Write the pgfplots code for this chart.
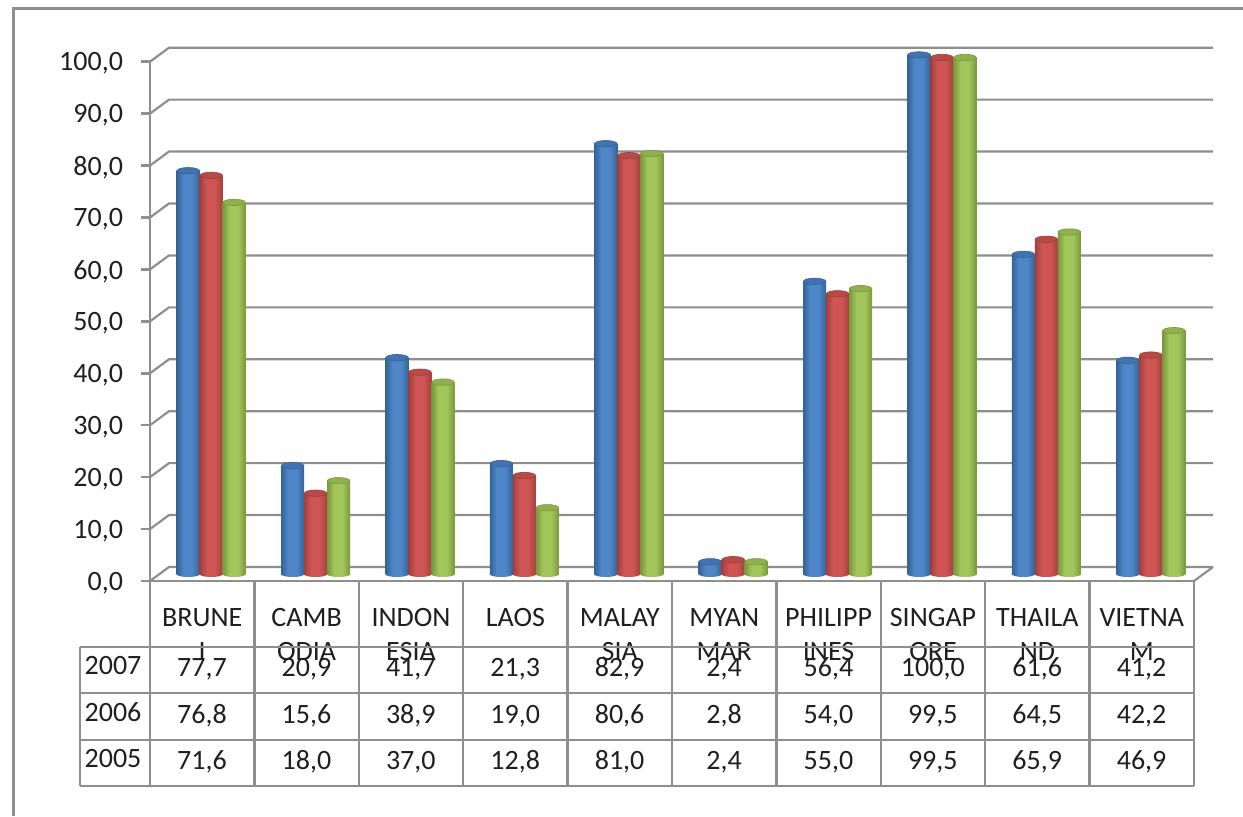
\documentclass[border=0pt]{standalone}
\usepackage{fontspec}
\setmainfont{Carlito}
\usepackage{pgfplots}
\usepackage{pgfplotstable}
\pgfplotsset{compat=1.18}

\definecolor{linegray}{HTML}{8E8E8E}
\definecolor{txt}{HTML}{1F1F1F}
\definecolor{bD}{HTML}{3A6DA6}\definecolor{bM}{HTML}{4F86C8}\definecolor{bC}{HTML}{4073B0}\definecolor{bE}{HTML}{356398}
\definecolor{rD}{HTML}{AE4643}\definecolor{rM}{HTML}{CE5553}\definecolor{rC}{HTML}{B84B48}\definecolor{rE}{HTML}{A03E3B}
\definecolor{gD}{HTML}{84A343}\definecolor{gM}{HTML}{A3C65B}\definecolor{gC}{HTML}{90B04D}\definecolor{gE}{HTML}{7A983D}

% horizontal shading of a cylinder: narrow dark edges, broad light middle
\newcommand{\cylshade}[1]{%
  \pgfdeclarehorizontalshading{cyl#1}{100bp}{color(0bp)=(#1E); color(25bp)=(#1E); color(29bp)=(#1D); color(40bp)=(#1M); color(58bp)=(#1M); color(71bp)=(#1D); color(75bp)=(#1E); color(100bp)=(#1E)}%
}
\cylshade{b}\cylshade{r}\cylshade{g}

% cylinder ends, 23 px wide (1 px = 0.5 pt)
\newcommand{\cylmarks}[1]{%
  \pgfdeclareplotmark{bot#1}{\path[draw=none,shade,shading=cyl#1,shading angle=0] (0,0) ellipse (5.75pt and 1.4pt);}%
  \pgfdeclareplotmark{top#1}{\path[fill=#1C,draw=#1E,line width=0.3pt] (0,0) ellipse (5.6pt and 1.6pt);}%
}
\cylmarks{b}\cylmarks{r}\cylmarks{g}

% one cylinder per category, each bar its own path so the shading is per bar
% #1 colour prefix, #2 column, #3 shift
\newcommand{\cylinders}[3]{%
  \pgfplotsinvokeforeach{0,...,9}{%
    \addplot[only marks,mark=bot#1,yshift=3.4pt,xshift=#3,restrict x to domain=##1.1:##1.9] table[x=x,y=base] {\datatable};
    \addplot[ybar,bar width=11.5pt,bar shift=#3,yshift=3.4pt,draw=none,shade,shading=cyl#1,shading angle=0,restrict x to domain=##1.1:##1.9] table[x=x,y=#2] {\datatable};
    \addplot[only marks,mark=top#1,yshift=3.4pt,xshift=#3,restrict x to domain=##1.1:##1.9] table[x=x,y=#2] {\datatable};
  }%
}

\pgfplotstableread{
x    base y2007 y2006 y2005
0.5  0    77.7  76.8  71.6
1.5  0    20.9  15.6  18.0
2.5  0    41.7  38.9  37.0
3.5  0    21.3  19.0  12.8
4.5  0    82.9  80.6  81.0
5.5  0    2.4   2.8   2.4
6.5  0    56.4  54.0  55.0
7.5  0    100.0 99.5  99.5
8.5  0    61.6  64.5  65.9
9.5  0    41.2  42.2  46.9
}\datatable

\begin{document}
\begin{tikzpicture}
\begin{scope}[x=0.5pt,y=-0.5pt,yshift=408pt]
  \useasboundingbox (0,0) rectangle (1243,816);
  % outer frame, runs off the right and bottom edge
  \draw[linegray,line width=1.4pt] (13.5,816) -- (13.5,8.5) -- (1243,8.5);
  % back wall and floor
  \foreach \v in {0,10,...,100}{
    \pgfmathsetmacro{\py}{581-5.193*\v}
    \draw[linegray,line width=1.1pt] (150,\py) -- (169,\py-14) -- (1213,\py-14);
  }
  \draw[linegray,line width=1.1pt] (1194,581) -- (1213,567);
\end{scope}

\begin{axis}[
  at={(75pt,117.5pt)},anchor=south west,
  scale only axis,width=522pt,height=259.65pt,
  xmin=0,xmax=10,ymin=0,ymax=100,
  clip=false,clip mode=individual,
  axis x line*=bottom,axis y line*=left,
  axis line style={linegray,line width=1.25pt},
  ytick={0,10,...,100},
  xtick={0.5,1.5,...,9.5},
  xticklabels={{BRUNE\\I},{CAMB\\ODIA},{INDON\\ESIA},{LAOS},{MALAY\\SIA},{MYAN\\MAR},{PHILIPP\\INES},{SINGAP\\ORE},{THAILA\\ND},{VIETNA\\M}},
  tick align=outside,
  major tick length=4.5pt,
  y tick style={linegray,line width=1.25pt},
  x tick style={draw=none},
  y tick label style={/pgf/number format/fixed,/pgf/number format/fixed zerofill,/pgf/number format/precision=1,/pgf/number format/use comma,/pgf/number format/assume math mode=true,font=\fontsize{14}{17}\selectfont,text=txt,anchor=east,xshift=-5.5pt,yshift=-1pt},
  x tick label style={font=\fontsize{14}{17}\selectfont,text=txt,align=center,anchor=north,yshift=-5.6pt},
]
\cylinders{b}{y2007}{-7pt}
\cylinders{r}{y2006}{4.5pt}
\cylinders{g}{y2005}{16pt}
\end{axis}

\begin{scope}[x=0.5pt,y=-0.5pt,yshift=408pt]
  % data table under the axis
  \foreach \py in {647,693,740,786}
    \draw[linegray,line width=1.25pt] (80,\py) -- (1194,\py);
  \draw[linegray,line width=1.25pt] (80,647) -- (80,786);
  \foreach \i in {0,...,10}{
    \pgfmathsetmacro{\px}{150+104.4*\i}
    \draw[linegray,line width=1.25pt] (\px,581) -- (\px,786);
  }
  \foreach \col/\yr/\py in {y2007/2007/676,y2006/2006/723,y2005/2005/769.5}{
    \node[anchor=base,inner sep=0,text=txt,font=\fontsize{14}{17}\selectfont] at (113,\py-2) {\yr};
    \foreach \r in {0,...,9}{
      \pgfplotstablegetelem{\r}{\col}\of\datatable
      \pgfmathsetmacro{\px}{202+104.4*\r}
      \node[anchor=base,inner sep=0,text=txt,font=\fontsize{14}{17}\selectfont] at (\px,\py)
        {\pgfmathprintnumber[fixed,fixed zerofill,precision=1,use comma,assume math mode=true]{\pgfplotsretval}};
    }
  }
\end{scope}
\end{tikzpicture}
\end{document}
